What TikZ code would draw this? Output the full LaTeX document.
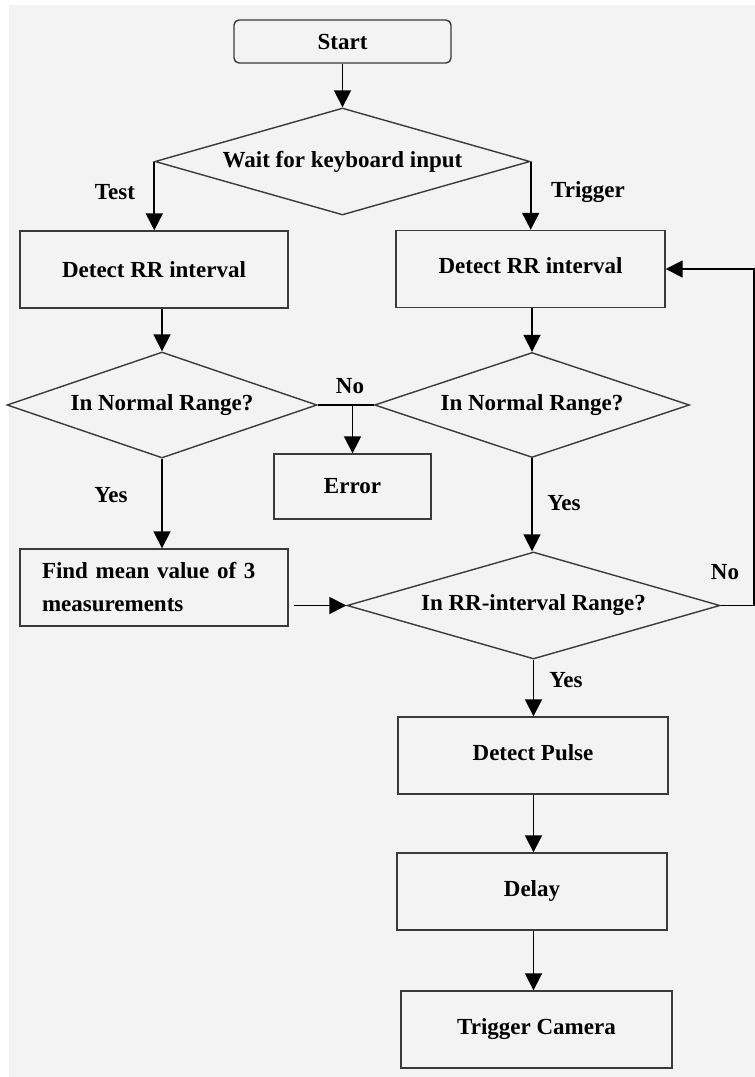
\documentclass[tikz,border=0pt]{standalone}
\usepackage{fontspec}
\setmainfont{Liberation Serif}
\usetikzlibrary{shapes.geometric,arrows.meta}
\definecolor{bg}{HTML}{F3F3F3}
\definecolor{edge}{HTML}{3A3A3A}
\begin{document}
\begin{tikzpicture}[x=1pt,y=-1pt,
  every node/.style={font=\bfseries\fontsize{23}{33}\selectfont, text=black},
  box/.style={draw=edge, line width=1.4pt, rectangle, inner sep=0pt, minimum height=77pt},
  startbox/.style={draw=edge, line width=1.4pt, rectangle, rounded corners=5pt, inner sep=0pt},
  dec/.style={draw=edge, line width=1.4pt, diamond, inner sep=0pt},
  lbl/.style={inner sep=0pt},
  arr/.style={line width=1.8pt, draw=black, -{Triangle[length=17pt,width=17pt]}},
  ln/.style={line width=1.8pt, draw=black}
]
\useasboundingbox (0,0) rectangle (755,1077);
\fill[white] (0,0) rectangle (755,1077);
\fill[bg] (9,5) rectangle (755,1077);

% nodes
\node[startbox, minimum width=217pt, minimum height=43pt] (start) at (342.5,41.5) {Start};
\node[dec, aspect=3.5, minimum width=375pt, minimum height=107pt] (wait) at (342.5,161.5) {Wait for keyboard input};
\node[box, minimum width=268pt] (det1) at (154,269.5) {Detect RR interval};
\node[box, minimum width=269pt] (det2) at (530.5,269) {\raisebox{6pt}{Detect RR interval}};
\node[dec, aspect=2.9, minimum width=310pt, minimum height=106pt] (nr1) at (162,405) {In Normal Range?};
\node[dec, aspect=3.0, minimum width=315pt, minimum height=105pt] (nr2) at (532,405) {In Normal Range?};
\node[box, minimum width=157pt, minimum height=65pt] (err) at (352.5,486.5) {Error};
\node[box, minimum width=268pt, text width=224pt, inner xsep=22pt, align=left] (mean) at (154,587.5) {\makebox[224pt][s]{Find mean value of 3}\\measurements};
\node[dec, aspect=3.5, minimum width=373pt, minimum height=107pt] (rr) at (533.5,605.5) {In RR-interval Range?};
\node[box, minimum width=270pt] (pulse) at (533,755.5) {\raisebox{6pt}{Detect Pulse}};
\node[box, minimum width=270pt] (delay) at (532,891.5) {\raisebox{6pt}{Delay}};
\node[box, minimum width=271pt] (cam) at (536.5,1029.5) {\raisebox{6pt}{Trigger Camera}};

% labels
\node[lbl] (ltest) at (115,192) {Test};
\node[lbl] (ltrig) at (588,192) {Trigger};
\node[lbl] (lno1) at (350,386) {No};
\node[lbl] (lyes1) at (111,495) {Yes};
\node[lbl] (lyes2) at (564,503) {Yes};
\node[lbl] (lno2) at (725,572) {No};
\node[lbl] (lyes3) at (566,680) {Yes};

% connectors
\draw[arr] (start.south) -- (wait.north);
\draw[arr] (wait.west) -- (wait.west |- det1.north);
\draw[arr] (wait.east) -- (wait.east |- det2.north);
\draw[arr] (nr1.north |- det1.south) -- (nr1.north);
\draw[arr] (nr2.north |- det2.south) -- (nr2.north);
\draw[ln] (nr1.east) -- (nr2.west);
\coordinate (split) at (err.north |- nr1.east);
\draw[arr] (split) -- (err.north);
\draw[arr] (nr1.south) -- (nr1.south |- mean.north);
\draw[arr] (nr2.south) -- (nr2.south |- rr.north);
\draw[arr, shorten <=5pt] (mean.east |- rr.west) -- (rr.west);
\coordinate (loopb) at (754,605.5);
\coordinate (loopt) at (754,269);
\draw[arr] (rr.east) -- (loopb) -- (loopt) -- (det2.east);
\draw[arr] (rr.south) -- (rr.south |- pulse.north);
\draw[arr] (rr.south |- pulse.south) -- (rr.south |- delay.north);
\draw[arr] (rr.south |- delay.south) -- (rr.south |- cam.north);
\end{tikzpicture}
\end{document}
